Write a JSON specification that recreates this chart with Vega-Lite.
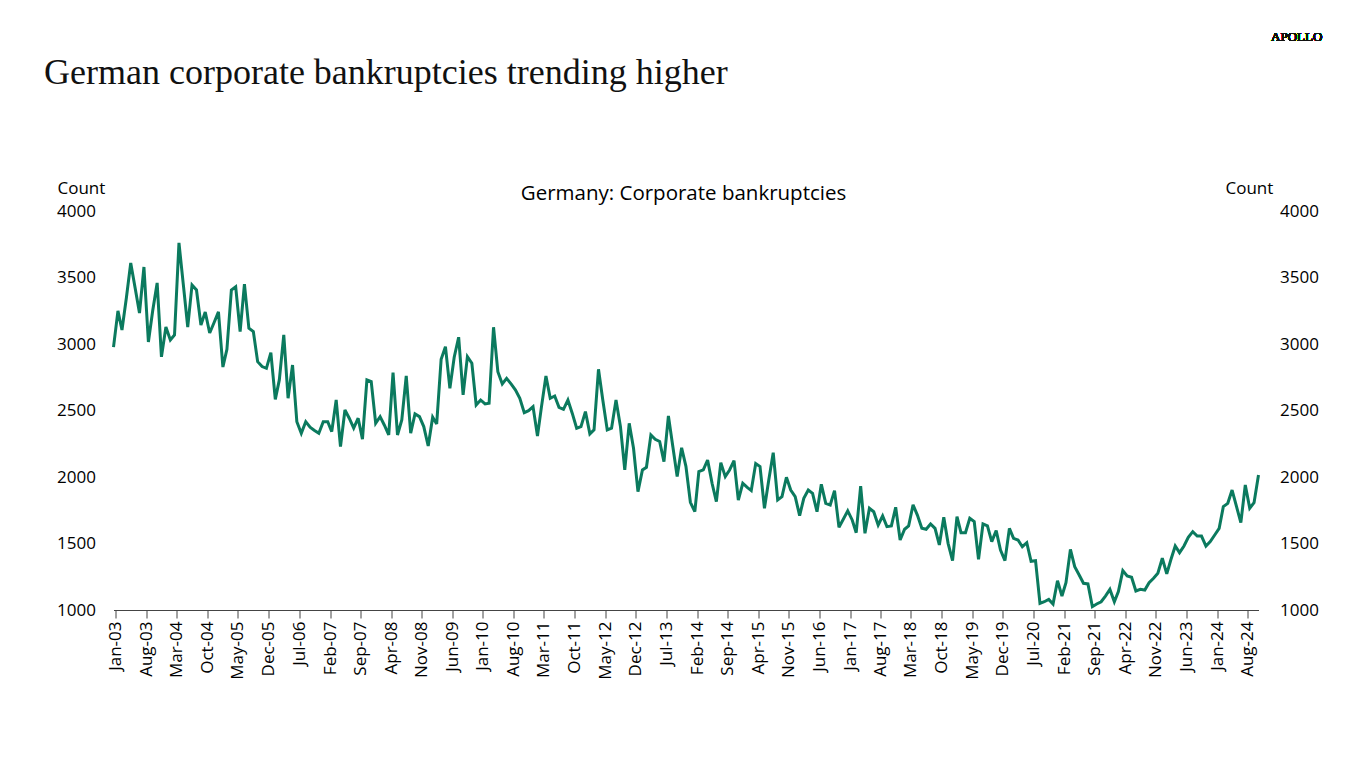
{
  "$schema": "https://vega.github.io/schema/vega-lite/v6.json",
  "width": 1145,
  "height": 399,
  "autosize": {"type": "none"},
  "padding": {"left": 113.5, "top": 211, "right": 107.5, "bottom": 158},
  "background": "white",
  "title": {
    "text": "German corporate bankruptcies trending higher",
    "anchor": "start",
    "frame": "group",
    "font": "Liberation Serif",
    "fontSize": 36,
    "fontWeight": "normal",
    "color": "#111111",
    "dx": -69.5,
    "dy": 71,
    "offset": 10
  },
  "config": {"view": {"stroke": null}},
  "data": {
    "values": [
      {"date": "2003-01-01", "value": 2977}, {"date": "2003-02-01", "value": 3249}, {"date": "2003-03-01", "value": 3105}, {"date": "2003-04-01", "value": 3350}, {"date": "2003-05-01", "value": 3609}, {"date": "2003-06-01", "value": 3420}, {"date": "2003-07-01", "value": 3233}, {"date": "2003-08-01", "value": 3579}, {"date": "2003-09-01", "value": 3015}, {"date": "2003-10-01", "value": 3250}, {"date": "2003-11-01", "value": 3459}, {"date": "2003-12-01", "value": 2903},
      {"date": "2004-01-01", "value": 3128}, {"date": "2004-02-01", "value": 3030}, {"date": "2004-03-01", "value": 3068}, {"date": "2004-04-01", "value": 3760}, {"date": "2004-05-01", "value": 3450}, {"date": "2004-06-01", "value": 3128}, {"date": "2004-07-01", "value": 3444}, {"date": "2004-08-01", "value": 3406}, {"date": "2004-09-01", "value": 3143}, {"date": "2004-10-01", "value": 3241}, {"date": "2004-11-01", "value": 3083}, {"date": "2004-12-01", "value": 3160},
      {"date": "2005-01-01", "value": 3241}, {"date": "2005-02-01", "value": 2827}, {"date": "2005-03-01", "value": 2960}, {"date": "2005-04-01", "value": 3406}, {"date": "2005-05-01", "value": 3430}, {"date": "2005-06-01", "value": 3093}, {"date": "2005-07-01", "value": 3450}, {"date": "2005-08-01", "value": 3118}, {"date": "2005-09-01", "value": 3093}, {"date": "2005-10-01", "value": 2867}, {"date": "2005-11-01", "value": 2830}, {"date": "2005-12-01", "value": 2817},
      {"date": "2006-01-01", "value": 2935}, {"date": "2006-02-01", "value": 2584}, {"date": "2006-03-01", "value": 2730}, {"date": "2006-04-01", "value": 3068}, {"date": "2006-05-01", "value": 2592}, {"date": "2006-06-01", "value": 2842}, {"date": "2006-07-01", "value": 2416}, {"date": "2006-08-01", "value": 2329}, {"date": "2006-09-01", "value": 2416}, {"date": "2006-10-01", "value": 2374}, {"date": "2006-11-01", "value": 2350}, {"date": "2006-12-01", "value": 2329},
      {"date": "2007-01-01", "value": 2416}, {"date": "2007-02-01", "value": 2416}, {"date": "2007-03-01", "value": 2341}, {"date": "2007-04-01", "value": 2579}, {"date": "2007-05-01", "value": 2228}, {"date": "2007-06-01", "value": 2504}, {"date": "2007-07-01", "value": 2442}, {"date": "2007-08-01", "value": 2367}, {"date": "2007-09-01", "value": 2442}, {"date": "2007-10-01", "value": 2284}, {"date": "2007-11-01", "value": 2730}, {"date": "2007-12-01", "value": 2717},
      {"date": "2008-01-01", "value": 2404}, {"date": "2008-02-01", "value": 2454}, {"date": "2008-03-01", "value": 2391}, {"date": "2008-04-01", "value": 2316}, {"date": "2008-05-01", "value": 2785}, {"date": "2008-06-01", "value": 2316}, {"date": "2008-07-01", "value": 2429}, {"date": "2008-08-01", "value": 2760}, {"date": "2008-09-01", "value": 2329}, {"date": "2008-10-01", "value": 2474}, {"date": "2008-11-01", "value": 2454}, {"date": "2008-12-01", "value": 2379},
      {"date": "2009-01-01", "value": 2233}, {"date": "2009-02-01", "value": 2450}, {"date": "2009-03-01", "value": 2399}, {"date": "2009-04-01", "value": 2885}, {"date": "2009-05-01", "value": 2980}, {"date": "2009-06-01", "value": 2667}, {"date": "2009-07-01", "value": 2900}, {"date": "2009-08-01", "value": 3051}, {"date": "2009-09-01", "value": 2617}, {"date": "2009-10-01", "value": 2905}, {"date": "2009-11-01", "value": 2855}, {"date": "2009-12-01", "value": 2542},
      {"date": "2010-01-01", "value": 2579}, {"date": "2010-02-01", "value": 2549}, {"date": "2010-03-01", "value": 2554}, {"date": "2010-04-01", "value": 3126}, {"date": "2010-05-01", "value": 2792}, {"date": "2010-06-01", "value": 2700}, {"date": "2010-07-01", "value": 2742}, {"date": "2010-08-01", "value": 2700}, {"date": "2010-09-01", "value": 2654}, {"date": "2010-10-01", "value": 2592}, {"date": "2010-11-01", "value": 2484}, {"date": "2010-12-01", "value": 2499},
      {"date": "2011-01-01", "value": 2529}, {"date": "2011-02-01", "value": 2308}, {"date": "2011-03-01", "value": 2529}, {"date": "2011-04-01", "value": 2760}, {"date": "2011-05-01", "value": 2592}, {"date": "2011-06-01", "value": 2609}, {"date": "2011-07-01", "value": 2524}, {"date": "2011-08-01", "value": 2509}, {"date": "2011-09-01", "value": 2579}, {"date": "2011-10-01", "value": 2480}, {"date": "2011-11-01", "value": 2367}, {"date": "2011-12-01", "value": 2379},
      {"date": "2012-01-01", "value": 2492}, {"date": "2012-02-01", "value": 2324}, {"date": "2012-03-01", "value": 2354}, {"date": "2012-04-01", "value": 2810}, {"date": "2012-05-01", "value": 2579}, {"date": "2012-06-01", "value": 2354}, {"date": "2012-07-01", "value": 2367}, {"date": "2012-08-01", "value": 2579}, {"date": "2012-09-01", "value": 2379}, {"date": "2012-10-01", "value": 2053}, {"date": "2012-11-01", "value": 2404}, {"date": "2012-12-01", "value": 2216},
      {"date": "2013-01-01", "value": 1890}, {"date": "2013-02-01", "value": 2053}, {"date": "2013-03-01", "value": 2073}, {"date": "2013-04-01", "value": 2316}, {"date": "2013-05-01", "value": 2284}, {"date": "2013-06-01", "value": 2267}, {"date": "2013-07-01", "value": 2116}, {"date": "2013-08-01", "value": 2459}, {"date": "2013-09-01", "value": 2228}, {"date": "2013-10-01", "value": 2003}, {"date": "2013-11-01", "value": 2220}, {"date": "2013-12-01", "value": 2080},
      {"date": "2014-01-01", "value": 1810}, {"date": "2014-02-01", "value": 1739}, {"date": "2014-03-01", "value": 2040}, {"date": "2014-04-01", "value": 2053}, {"date": "2014-05-01", "value": 2128}, {"date": "2014-06-01", "value": 1953}, {"date": "2014-07-01", "value": 1815}, {"date": "2014-08-01", "value": 2108}, {"date": "2014-09-01", "value": 2003}, {"date": "2014-10-01", "value": 2053}, {"date": "2014-11-01", "value": 2123}, {"date": "2014-12-01", "value": 1827},
      {"date": "2015-01-01", "value": 1953}, {"date": "2015-02-01", "value": 1922}, {"date": "2015-03-01", "value": 1898}, {"date": "2015-04-01", "value": 2101}, {"date": "2015-05-01", "value": 2078}, {"date": "2015-06-01", "value": 1765}, {"date": "2015-07-01", "value": 1978}, {"date": "2015-08-01", "value": 2183}, {"date": "2015-09-01", "value": 1827}, {"date": "2015-10-01", "value": 1852}, {"date": "2015-11-01", "value": 1998}, {"date": "2015-12-01", "value": 1902},
      {"date": "2016-01-01", "value": 1852}, {"date": "2016-02-01", "value": 1710}, {"date": "2016-03-01", "value": 1840}, {"date": "2016-04-01", "value": 1902}, {"date": "2016-05-01", "value": 1877}, {"date": "2016-06-01", "value": 1739}, {"date": "2016-07-01", "value": 1945}, {"date": "2016-08-01", "value": 1802}, {"date": "2016-09-01", "value": 1790}, {"date": "2016-10-01", "value": 1898}, {"date": "2016-11-01", "value": 1622}, {"date": "2016-12-01", "value": 1682},
      {"date": "2017-01-01", "value": 1745}, {"date": "2017-02-01", "value": 1677}, {"date": "2017-03-01", "value": 1581}, {"date": "2017-04-01", "value": 1932}, {"date": "2017-05-01", "value": 1577}, {"date": "2017-06-01", "value": 1765}, {"date": "2017-07-01", "value": 1739}, {"date": "2017-08-01", "value": 1639}, {"date": "2017-09-01", "value": 1707}, {"date": "2017-10-01", "value": 1627}, {"date": "2017-11-01", "value": 1632}, {"date": "2017-12-01", "value": 1772},
      {"date": "2018-01-01", "value": 1526}, {"date": "2018-02-01", "value": 1607}, {"date": "2018-03-01", "value": 1632}, {"date": "2018-04-01", "value": 1790}, {"date": "2018-05-01", "value": 1714}, {"date": "2018-06-01", "value": 1614}, {"date": "2018-07-01", "value": 1607}, {"date": "2018-08-01", "value": 1647}, {"date": "2018-09-01", "value": 1614}, {"date": "2018-10-01", "value": 1489}, {"date": "2018-11-01", "value": 1697}, {"date": "2018-12-01", "value": 1501},
      {"date": "2019-01-01", "value": 1371}, {"date": "2019-02-01", "value": 1702}, {"date": "2019-03-01", "value": 1581}, {"date": "2019-04-01", "value": 1581}, {"date": "2019-05-01", "value": 1690}, {"date": "2019-06-01", "value": 1665}, {"date": "2019-07-01", "value": 1381}, {"date": "2019-08-01", "value": 1647}, {"date": "2019-09-01", "value": 1632}, {"date": "2019-10-01", "value": 1514}, {"date": "2019-11-01", "value": 1597}, {"date": "2019-12-01", "value": 1451},
      {"date": "2020-01-01", "value": 1371}, {"date": "2020-02-01", "value": 1614}, {"date": "2020-03-01", "value": 1539}, {"date": "2020-04-01", "value": 1526}, {"date": "2020-05-01", "value": 1476}, {"date": "2020-06-01", "value": 1506}, {"date": "2020-07-01", "value": 1366}, {"date": "2020-08-01", "value": 1371}, {"date": "2020-09-01", "value": 1050}, {"date": "2020-10-01", "value": 1062}, {"date": "2020-11-01", "value": 1080}, {"date": "2020-12-01", "value": 1045},
      {"date": "2021-01-01", "value": 1220}, {"date": "2021-02-01", "value": 1105}, {"date": "2021-03-01", "value": 1205}, {"date": "2021-04-01", "value": 1456}, {"date": "2021-05-01", "value": 1326}, {"date": "2021-06-01", "value": 1263}, {"date": "2021-07-01", "value": 1201}, {"date": "2021-08-01", "value": 1196}, {"date": "2021-09-01", "value": 1025}, {"date": "2021-10-01", "value": 1045}, {"date": "2021-11-01", "value": 1062}, {"date": "2021-12-01", "value": 1105},
      {"date": "2022-01-01", "value": 1155}, {"date": "2022-02-01", "value": 1062}, {"date": "2022-03-01", "value": 1138}, {"date": "2022-04-01", "value": 1296}, {"date": "2022-05-01", "value": 1256}, {"date": "2022-06-01", "value": 1246}, {"date": "2022-07-01", "value": 1143}, {"date": "2022-08-01", "value": 1155}, {"date": "2022-09-01", "value": 1150}, {"date": "2022-10-01", "value": 1205}, {"date": "2022-11-01", "value": 1238}, {"date": "2022-12-01", "value": 1276},
      {"date": "2023-01-01", "value": 1389}, {"date": "2023-02-01", "value": 1271}, {"date": "2023-03-01", "value": 1376}, {"date": "2023-04-01", "value": 1481}, {"date": "2023-05-01", "value": 1431}, {"date": "2023-06-01", "value": 1481}, {"date": "2023-07-01", "value": 1547}, {"date": "2023-08-01", "value": 1589}, {"date": "2023-09-01", "value": 1556}, {"date": "2023-10-01", "value": 1556}, {"date": "2023-11-01", "value": 1481}, {"date": "2023-12-01", "value": 1514},
      {"date": "2024-01-01", "value": 1564}, {"date": "2024-02-01", "value": 1614}, {"date": "2024-03-01", "value": 1777}, {"date": "2024-04-01", "value": 1802}, {"date": "2024-05-01", "value": 1902}, {"date": "2024-06-01", "value": 1777}, {"date": "2024-07-01", "value": 1657}, {"date": "2024-08-01", "value": 1940}, {"date": "2024-09-01", "value": 1765}, {"date": "2024-10-01", "value": 1807}, {"date": "2024-11-01", "value": 2015}
    ]
  },
  "layer": [
    {
      "mark": {"type": "line", "color": "#0b7a5e", "strokeWidth": 3, "strokeJoin": "miter", "strokeMiterLimit": 3},
      "encoding": {
        "x": {
          "field": "date", "type": "temporal",
          "scale": {"domain": [{"year": 2003, "month": 1, "date": 1}, {"year": 2024, "month": 11, "date": 1}]},
          "axis": {
            "orient": "bottom", "title": null, "grid": false,
            "format": "%b-%y", "labelAngle": 270, "labelFont": "Open Sans", "labelFontSize": 17, "labelColor": "#000000",
            "labelPadding": 3, "tickSize": 8, "tickColor": "#444444", "domainColor": "#444444", "domainWidth": 1,
            "labelOverlap": false, "labelFlush": false,
            "values": [
              {"year": 2003, "month": 1, "date": 17}, {"year": 2003, "month": 8, "date": 17}, {"year": 2004, "month": 3, "date": 17}, {"year": 2004, "month": 10, "date": 17},
              {"year": 2005, "month": 5, "date": 17}, {"year": 2005, "month": 12, "date": 17}, {"year": 2006, "month": 7, "date": 17}, {"year": 2007, "month": 2, "date": 17},
              {"year": 2007, "month": 9, "date": 17}, {"year": 2008, "month": 4, "date": 17}, {"year": 2008, "month": 11, "date": 17}, {"year": 2009, "month": 6, "date": 17},
              {"year": 2010, "month": 1, "date": 17}, {"year": 2010, "month": 8, "date": 17}, {"year": 2011, "month": 3, "date": 17}, {"year": 2011, "month": 10, "date": 17},
              {"year": 2012, "month": 5, "date": 17}, {"year": 2012, "month": 12, "date": 17}, {"year": 2013, "month": 7, "date": 17}, {"year": 2014, "month": 2, "date": 17},
              {"year": 2014, "month": 9, "date": 17}, {"year": 2015, "month": 4, "date": 17}, {"year": 2015, "month": 11, "date": 17}, {"year": 2016, "month": 6, "date": 17},
              {"year": 2017, "month": 1, "date": 17}, {"year": 2017, "month": 8, "date": 17}, {"year": 2018, "month": 3, "date": 17}, {"year": 2018, "month": 10, "date": 17},
              {"year": 2019, "month": 5, "date": 17}, {"year": 2019, "month": 12, "date": 17}, {"year": 2020, "month": 7, "date": 17}, {"year": 2021, "month": 2, "date": 17},
              {"year": 2021, "month": 9, "date": 17}, {"year": 2022, "month": 4, "date": 17}, {"year": 2022, "month": 11, "date": 17}, {"year": 2023, "month": 6, "date": 17},
              {"year": 2024, "month": 1, "date": 17}, {"year": 2024, "month": 8, "date": 17}
            ]
          }
        },
        "y": {
          "field": "value", "type": "quantitative",
          "scale": {"domain": [1000, 4000], "nice": false, "zero": false},
          "axis": {
            "orient": "left", "values": [1000, 1500, 2000, 2500, 3000, 3500, 4000], "format": "d", "grid": false, "domain": false, "ticks": false,
            "labelFont": "Open Sans", "labelFontSize": 17, "labelColor": "#000000", "labelPadding": 18,
            "title": "Count", "titleAngle": 0, "titleX": -56.5, "titleY": -23, "titleAlign": "left", "titleBaseline": "middle",
            "titleFont": "Open Sans", "titleFontSize": 17, "titleFontWeight": "normal", "titleColor": "#000000"
          }
        }
      }
    },
    {
      "mark": {"type": "line", "opacity": 0},
      "encoding": {
        "x": {
          "field": "date", "type": "temporal",
          "scale": {"domain": [{"year": 2003, "month": 1, "date": 1}, {"year": 2024, "month": 11, "date": 1}]},
          "axis": {
            "orient": "top", "labels": false, "ticks": false, "domain": false, "grid": false,
            "title": "Germany: Corporate bankruptcies", "titleX": 569.5, "titleY": -18, "titleAlign": "center", "titleBaseline": "middle",
            "titleFont": "Open Sans", "titleFontSize": 20.5, "titleFontWeight": "normal", "titleColor": "#000000"
          }
        },
        "y": {
          "field": "value", "type": "quantitative",
          "scale": {"domain": [1000, 4000], "nice": false, "zero": false},
          "axis": {
            "orient": "right", "values": [1000, 1500, 2000, 2500, 3000, 3500, 4000], "format": "d", "grid": false, "domain": false, "ticks": false,
            "labelFont": "Open Sans", "labelFontSize": 17, "labelColor": "#000000", "labelPadding": 21,
            "title": "Count", "titleAngle": 0, "titleX": -33.5, "titleY": -23, "titleAlign": "left", "titleBaseline": "middle",
            "titleFont": "Open Sans", "titleFontSize": 17, "titleFontWeight": "normal", "titleColor": "#000000"
          }
        }
      }
    },
    {
      "mark": {"type": "text", "font": "Liberation Serif", "fontSize": 13, "fontWeight": "normal", "color": "#111111", "align": "center", "baseline": "middle"},
      "encoding": {
        "x": {"datum": {"year": 2025, "month": 7, "date": 25}, "type": "temporal", "scale": {"domain": [{"year": 2003, "month": 1, "date": 1}, {"year": 2024, "month": 11, "date": 1}]}, "axis": null},
        "y": {"datum": 5308, "type": "quantitative", "scale": {"domain": [1000, 4000], "nice": false, "zero": false}, "axis": null},
        "text": {"value": "APOLLO"}
      }
    }
  ],
  "resolve": {"scale": {"x": "independent", "y": "independent"}}
}
